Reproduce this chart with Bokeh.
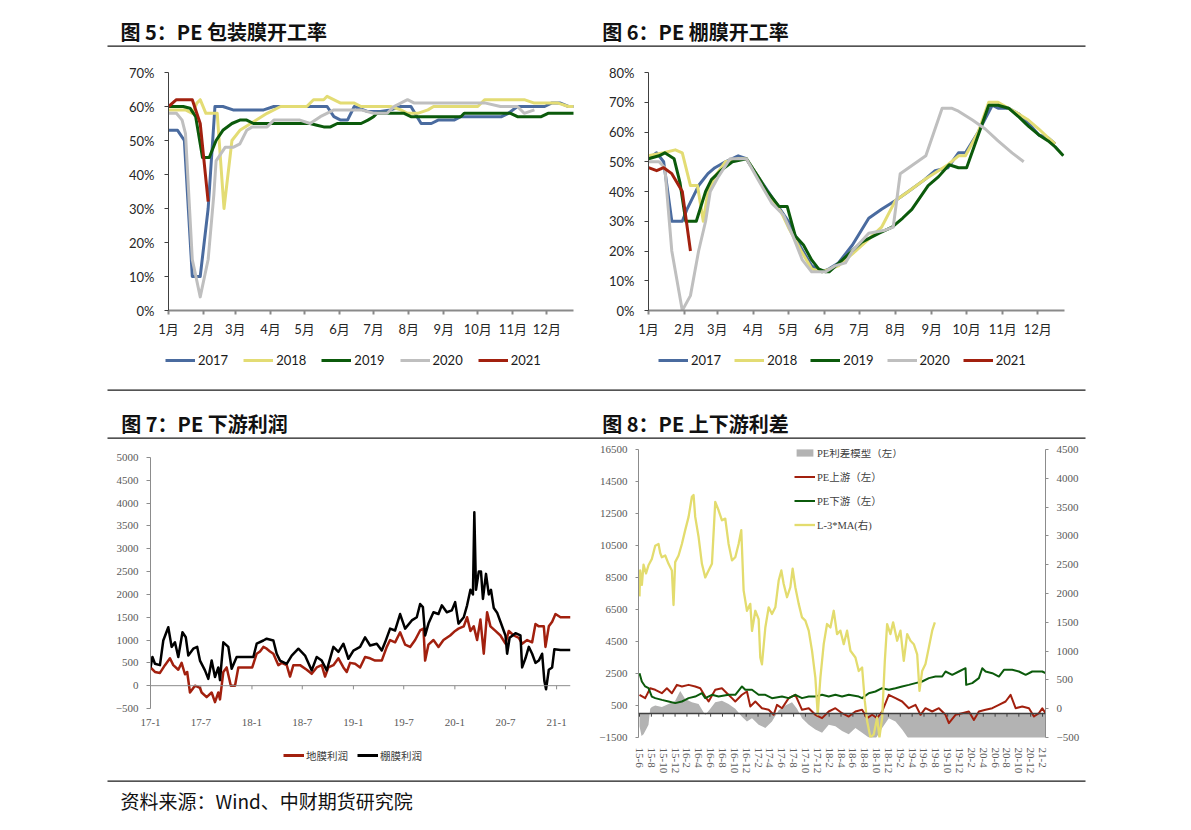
import math
from bokeh.plotting import figure
from bokeh.layouts import column, row
from bokeh.models import (Range1d, LinearAxis, FixedTicker, Legend, LegendItem,
                          Span, Label)
from bokeh.embed import file_html
from bokeh.resources import INLINE

CJK = "Noto Sans CJK SC"
SANS = "Lato"
SANS_CJK = "Lato, 'Noto Sans CJK SC'"
SERIF = "'Liberation Serif'"
SERIF_CJK = "'Liberation Serif', 'Noto Sans CJK SC'"

# ---------------- data ----------------
titles = ["图 5：PE 包装膜开工率", "图 6：PE 棚膜开工率", "图 7：PE 下游利润", "图 8：PE 上下游利差"]
source_text = "资料来源：Wind、中财期货研究院"

years = ["2017", "2018", "2019", "2020", "2021"]
year_colors = ["#4A6B9F", "#E3DC74", "#0B5A0B", "#BFBFBF", "#A2200E"]
month_ticks = [0, 31, 59, 90, 120, 151, 181, 212, 243, 273, 304, 334]
month_labels = ["1月", "2月", "3月", "4月", "5月", "6月", "7月", "8月", "9月", "10月", "11月", "12月"]

# Fig 5: packaging film operating rate (%), x = day of year
pk17_d = [0, 8, 14, 21, 28, 35, 41, 48, 57, 84, 93, 140, 146, 152, 158, 164, 176, 187, 196, 205, 214, 223, 232, 238, 252, 258, 294, 300, 308, 332, 338, 346, 353, 358]
pk17_v = [53, 53, 50, 10, 10, 30, 60, 60, 59, 59, 60, 60, 57, 56, 56, 60, 58.5, 58.5, 59, 60, 60, 55, 55, 56, 56, 57, 57, 58, 60, 60, 61, 61, 60, 60]
pk18_d = [0, 15, 21, 25, 28, 33, 43, 49, 56, 63, 87, 99, 122, 128, 137, 140, 152, 164, 170, 196, 205, 211, 220, 229, 234, 273, 279, 314, 323, 344, 353, 358]
pk18_v = [59, 59, 58, 61, 62, 58, 58, 30, 50, 53, 58, 60, 60, 62, 62, 63, 61, 61, 60, 60, 59, 58, 58, 59, 60, 60, 62, 62, 61, 61, 60, 60]
pk19_d = [0, 13, 19, 24, 30, 36, 42, 48, 56, 63, 69, 75, 125, 131, 137, 143, 149, 170, 176, 181, 184, 208, 214, 258, 261, 302, 308, 329, 335, 358]
pk19_v = [60, 60, 59.5, 57, 45, 45, 50, 53, 55, 56, 56, 55, 55, 54.5, 54, 54, 55, 55, 56, 57, 58, 58, 57, 57, 58, 58, 57, 57, 58, 58]
pk20_d = [0, 7, 12, 15, 21, 28, 35, 40, 42, 50, 57, 63, 69, 74, 87, 93, 116, 125, 134, 146, 170, 181, 193, 199, 211, 217, 280, 293, 308, 314, 323]
pk20_v = [58, 58, 56, 52, 15, 4, 15, 34, 44, 48, 48, 49, 53, 54, 54, 56, 56, 55, 57, 59, 59, 58, 58, 60, 62, 61, 61, 60, 60, 58, 59]
pk21_d = [0, 7, 14, 21, 28, 35]
pk21_v = [60, 62, 62, 62, 55, 32]

# Fig 6: greenhouse film operating rate (%)
gm17_d = [0, 7, 13, 20, 29, 33, 43, 51, 57, 66, 77, 84, 94, 106, 120, 131, 140, 149, 155, 163, 175, 189, 200, 212, 223, 237, 246, 257, 266, 272, 283, 295, 300, 309, 318, 326, 335, 343, 349]
gm17_v = [51, 53, 50, 30, 30, 34, 42, 46, 48, 50, 52, 51, 45, 38, 30, 21, 15, 13, 14, 16, 22, 31, 34, 37, 40, 44, 47, 48, 53, 53, 60, 69, 68, 68, 66, 63, 59, 58, 56]
gm18_d = [0, 13, 23, 29, 36, 42, 47, 51, 57, 66, 77, 84, 94, 106, 114, 120, 131, 140, 149, 163, 175, 189, 200, 212, 223, 237, 257, 266, 272, 283, 292, 300, 309, 318, 326, 335, 343, 349]
gm18_v = [52, 53, 54, 53, 42, 42, 30, 40, 45, 50, 51, 51, 45, 37, 33, 28, 20, 14, 13, 15, 19, 24, 28, 37, 40, 44, 49, 52, 52, 60, 70, 70, 68, 66, 64, 61, 58, 56]
gm19_d = [0, 9, 14, 22, 27, 32, 41, 49, 54, 62, 72, 84, 94, 102, 112, 119, 126, 133, 140, 146, 152, 155, 172, 183, 198, 209, 218, 226, 240, 249, 258, 266, 273, 283, 292, 300, 309, 318, 326, 335, 343, 349, 356]
gm19_v = [51, 52, 53, 51, 43, 30, 30, 40, 44, 47, 50, 51, 45, 40, 35, 35, 25, 22, 17, 14, 13, 13, 19, 23, 26, 28, 31, 34, 42, 45, 49, 48, 48, 59, 69, 69, 68, 65, 62, 59, 57, 55, 52]
gm20_d = [0, 9, 14, 20, 29, 36, 43, 49, 53, 60, 70, 84, 94, 106, 116, 124, 132, 140, 152, 160, 169, 175, 189, 203, 210, 216, 238, 252, 260, 266, 278, 289, 300, 312, 322]
gm20_v = [50, 50, 48, 20, 0, 5, 20, 30, 40, 45, 51, 51, 44, 36, 32, 25, 17, 13, 13, 15, 16, 20, 26, 27, 28, 46, 52, 68, 68, 67, 64, 61, 57, 53, 50]
gm21_d = [0, 7, 13, 20, 29, 36]
gm21_v = [48, 47, 48, 46, 40, 20]

# Fig 7: downstream profit, x = days since 2017-01-01
p7_ticks = [0, 181, 365, 546, 730, 911, 1095, 1277, 1461]
p7_labels = ["17-1", "17-7", "18-1", "18-7", "19-1", "19-7", "20-1", "20-7", "21-1"]
p7_names = ["地膜利润", "棚膜利润"]
p7_colors = ["#A2200E", "#000000"]
dm_d = [0, 16, 34, 52, 70, 82, 100, 112, 124, 132, 142, 160, 178, 184, 202, 220, 232, 244, 250, 262,
        274, 289, 304, 316, 366, 382, 394, 406, 418, 430, 442, 460, 472, 490, 502, 514, 538, 562, 580, 598,
        616, 628, 640, 658, 676, 694, 706, 718, 736, 754, 772, 790, 808, 832, 850, 862, 880, 898, 916, 934,
        952, 970, 982, 988, 1000, 1018, 1036, 1054, 1078, 1096, 1108, 1127, 1139, 1151, 1163, 1175, 1187, 1199, 1211, 1223,
        1241, 1259, 1277, 1289, 1307, 1325, 1337, 1355, 1373, 1385, 1397, 1415, 1421, 1433, 1445, 1457, 1475, 1511]
dm_v = [400, 300, 280, 450, 600, 450, 350, 500, 250, 300, -150, 0, -50, -150, -250, -150, -360, -150, -300, 300,
        400, 0, 0, 400, 400, 700, 750, 850, 810, 750, 700, 450, 500, 450, 200, 450, 450, 350, 260, 400,
        450, 200, 400, 450, 600, 400, 300, 500, 480, 400, 630, 600, 550, 550, 850, 1000, 950, 1170, 900, 850,
        1000, 1210, 1250, 550, 900, 1000, 850, 1000, 1100, 1200, 1250, 1300, 1500, 1200, 1300, 1000, 1450, 700, 1610, 1300,
        1200, 1100, 920, 1200, 1100, 1050, 920, 1000, 950, 1350, 1300, 1300, 850, 1300, 1400, 1570, 1500, 1500]
pm_d = [0, 7, 16, 34, 46, 64, 76, 88, 100, 115, 127, 136, 154, 168, 178, 196, 208, 220, 232, 244,
        250, 262, 280, 292, 310, 346, 370, 382, 406, 418, 442, 454, 466, 490, 508, 532, 556, 580, 598, 616,
        634, 658, 676, 694, 712, 730, 754, 772, 790, 814, 832, 844, 862, 880, 898, 916, 940, 958, 970, 980,
        988, 1000, 1018, 1036, 1048, 1066, 1084, 1096, 1108, 1127, 1139, 1151, 1160, 1165, 1171, 1181, 1189, 1196, 1207, 1217,
        1225, 1235, 1247, 1259, 1277, 1283, 1292, 1313, 1331, 1337, 1349, 1361, 1373, 1385, 1397, 1409, 1417, 1423, 1433, 1445,
        1453, 1475, 1511]
pm_v = [400, 630, 480, 450, 990, 1280, 850, 950, 630, 1170, 1060, 660, 810, 850, 550, 335, 150, 550, 190, 400,
        120, 950, 850, 370, 630, 630, 630, 920, 990, 1030, 990, 700, 550, 480, 660, 810, 660, 335, 630, 550,
        335, 850, 740, 920, 590, 770, 850, 1060, 880, 920, 770, 950, 1250, 1210, 1570, 1250, 1430, 1500, 1790, 1720,
        1100, 1360, 1610, 1570, 1760, 1610, 1650, 1830, 1360, 1500, 1760, 2100, 2000, 3800, 2100, 2500, 2500, 1900, 2450, 2000,
        2100, 1700, 1600, 1400, 1100, 700, 1050, 1150, 1100, 400, 600, 850, 700, 500, 550, 700, 100, -80, 350, 400,
        800, 780, 780]

# Fig 8: upstream / downstream spread, x = months since 2015-06
p8_labels = ["15-6", "15-8", "15-10", "15-12", "16-2", "16-4", "16-6", "16-8", "16-10", "16-12",
             "17-2", "17-4", "17-6", "17-8", "17-10", "17-12", "18-2", "18-4", "18-6", "18-8",
             "18-10", "18-12", "19-2", "19-4", "19-6", "19-8", "19-10", "19-12", "20-2", "20-4",
             "20-6", "20-8", "20-10", "20-12", "21-2"]
p8_ticks = [2 * i for i in range(len(p8_labels))]
p8_names = ["PE利差模型（左）", "PE上游（左）", "PE下游（左）", "L-3*MA(右)"]
ar_m = [0, 0.34, 0.68, 1.24, 1.52, 1.8, 2.08, 2.65, 3.77, 4.9, 6.02, 6.87, 7.71, 8.84, 9.97, 11.09, 11.94, 12.78, 13.91, 15.03,
        16.16, 17.29, 18.13, 18.98, 20.1, 21.23, 22.35, 23.48, 24.61, 25.73, 26.58, 27.42, 28.55, 29.67, 30.8, 31.93, 33.05, 34.18, 35.3, 36.43,
        37.56, 38.68, 39.81, 40.94, 42.06, 43.19, 44.31, 45.44, 46.57, 68.5]
ar_v = [-800, -1400, -1300, -900, -700, 300, 400, 500, 400, 600, 800, 1400, 900, 700, 600, -100, 300, 700, 800, 600,
        300, -200, -500, -300, -700, -900, -500, 200, 500, 700, 300, -300, -700, -1000, -1200, -700, -800, -1100, -1300, -900,
        -1200, -1500, -1600, -900, -300, -500, -1000, -1600, -1800, -1800]
rd_m = [0, 0.96, 1.8, 2.65, 3.77, 4.62, 5.46, 6.31, 7.15, 8.28, 9.4, 10.25, 11.09, 11.66, 12.78, 13.91, 14.75, 15.6, 16.16, 17.29,
        18.13, 18.69, 19.54, 20.66, 21.79, 22.64, 23.2, 24.04, 25.17, 26.29, 27.42, 28.55, 29.67, 30.8, 31.93, 33.05, 34.18, 35.3, 36.43, 37.56,
        38.4, 39.25, 40.09, 40.94, 42.06, 43.19, 44.31, 45.44, 46.57, 47.41, 48.25, 49.38, 50.51, 51.63, 52.2, 53.32, 54.45, 55.57, 56.42, 57.26,
        58.39, 59.52, 60.64, 61.77, 62.61, 63.46, 64.58, 65.71, 66.55, 67.4, 67.96, 68.5]
rd_v = [1170, 960, 1580, 1480, 1270, 1580, 1270, 1790, 1690, 1790, 1690, 1580, 1060, 750, 1480, 1580, 1270, 960, 750, 1170,
        1375, 440, 750, 330, 230, -80, 540, 330, 960, 1170, 230, 330, -80, -290, 125, 330, 20, -190, 125, 230,
        -290, -80, -290, 125, 1170, 960, 750, 330, 540, -80, 330, 125, 330, -80, -600, -80, 20, 125, -400, 125,
        230, 330, 540, 750, 1170, 330, 440, 330, -190, 20, 330, 20]
gr_m = [0, 0.39, 0.96, 1.52, 2.08, 2.65, 3.77, 4.9, 6.02, 7.15, 7.71, 8.28, 9.4, 10.53, 11.09, 12.22, 13.34, 15.03, 16.16, 17.29,
        17.85, 18.98, 20.1, 21.23, 22.35, 24.04, 25.17, 26.29, 27.42, 28.55, 29.67, 30.8, 31.93, 33.05, 34.18, 35.3, 36.99, 37.56, 38.68, 39.81,
        40.94, 42.06, 43.19, 44.31, 45.44, 46.57, 47.69, 48.82, 49.94, 51.07, 51.63, 52.76, 53.89, 55.01, 55.12, 56.14, 57.26, 57.83, 58.39, 59.52,
        60.64, 61.49, 62.89, 64.02, 65.15, 66.27, 67.96, 68.5]
gr_v = [2520, 2000, 1690, 1580, 1060, 960, 850, 750, 650, 750, 850, 960, 1060, 1270, 960, 1170, 1060, 1170, 1170, 1690,
        1480, 1480, 1170, 1170, 960, 1060, 960, 1170, 960, 1060, 1060, 1170, 1060, 1170, 1060, 1170, 1060, 960, 1270, 1375,
        1580, 1480, 1580, 1690, 1790, 1900, 2000, 2210, 2310, 2310, 2625, 2420, 2625, 2830, 1790, 1900, 2210, 2830, 2625, 2520,
        2310, 2730, 2730, 2625, 2420, 2625, 2625, 2520]
yl_m = [0.0, 0.11, 0.4, 0.68, 1.1, 1.52, 2.08, 2.65, 3.21, 3.5, 3.77, 4.34, 4.9, 5.46, 5.74, 6.02, 6.59, 7.15, 7.71, 8.28,
        8.84, 9.12, 9.4, 9.97, 10.53, 11.09, 11.66, 12.22, 12.78, 13.34, 13.91, 14.47, 15.03, 15.6, 16.16, 16.72, 17.17, 17.57, 18.13, 18.69,
        18.98, 19.54, 20.1, 20.38, 20.66, 21.23, 21.79, 22.35, 22.92, 23.48, 23.93, 24.32, 24.89, 25.45, 25.84, 26.29, 26.86, 27.42, 27.98, 28.55,
        29.11, 29.67, 30.07, 30.52, 31.08, 31.64, 32.21, 32.77, 33.33, 33.9, 34.46, 35.02, 35.59, 36.43, 36.99, 37.56, 38.01, 38.4, 38.96, 39.53,
        40.09, 40.48, 40.94, 41.39, 41.78, 42.34, 42.79, 43.47, 44.03, 44.59, 45.16, 45.72, 46.28, 46.85, 47.24, 47.69, 48.25, 48.82, 49.38, 49.83]
yl_v = [1950, 2400, 2150, 2500, 2350, 2490, 2600, 2830, 2860, 2700, 2630, 2660, 2515, 2400, 1800, 2545, 2660, 2860, 3100, 3330,
        3680, 3710, 3330, 2980, 2515, 2280, 2400, 2515, 3590, 3445, 3270, 3300, 2860, 2575, 2630, 2860, 3100, 2050, 1700, 1820,
        1350, 1700, 1555, 890, 770, 1410, 1760, 1645, 1760, 2225, 2400, 2170, 1935, 2110, 2430, 2110, 1820, 1585, 1530, 1355,
        1005, 540, -100, 540, 1120, 1470, 1410, 1700, 1295, 1355, 1120, 1355, 1005, 890, 655, 715, 135, -215, -500, -445,
        -155, -500, -155, 830, 1470, 1295, 1500, 1180, 1355, 830, 1295, 1180, 1120, 945, 310, 655, 775, 1065, 1355, 1500]


# ---------------- helpers ----------------
PAGE_W = 1183


def band(top, h, w=PAGE_W):
    p = figure(width=w, height=h, x_range=Range1d(0, w), y_range=Range1d(top + h, top),
               x_axis_type=None, y_axis_type=None, output_backend="svg",
               toolbar_location=None, min_border=0)
    p.grid.visible = False
    p.outline_line_color = None
    return p


def rule(p, y):
    p.segment(x0=[107], y0=[y], x1=[1085], y1=[y], line_color="#1a1a1a", line_width=1.3)


def title(p, x, y, text):
    p.add_layout(Label(x=x, y=y, text=text, text_font=CJK, text_font_size="20px",
                       text_font_style="bold", text_baseline="middle", text_color="#111111"))


def key_legend(p, names, colors, widths, loc, glyph_w, spacing, font, size, color, standoff):
    # legend keys for a chart whose legend sits below its frame; the key
    # renderers hold a single off-screen point, so they draw no mark themselves
    items = []
    for n, c, lw in zip(names, colors, widths):
        r = p.line(x=[-1e6], y=[-1e6], line_color=c, line_width=lw)
        items.append(LegendItem(label=n, renderers=[r]))
    leg = Legend(items=items, orientation="horizontal", location=loc, glyph_width=glyph_w,
                 glyph_height=16, label_height=16, label_standoff=standoff, spacing=spacing,
                 padding=0, margin=0, border_line_color=None, background_fill_alpha=0,
                 label_text_font=font, label_text_font_size=size, label_text_color=color)
    p.add_layout(leg)


def chart(w, h, xr, yr, bl, br, bt, bb):
    p = figure(width=w, height=h, x_range=xr, y_range=yr, output_backend="svg",
               toolbar_location=None, min_border_left=bl, min_border_right=br,
               min_border_top=bt, min_border_bottom=bb)
    p.grid.visible = False
    p.outline_line_color = None
    return p


def rate_chart(w, bl, br, bt, bb, xend, ymax, series):
    p = chart(w, 300, Range1d(0, xend), Range1d(0, ymax), bl, br, bt, bb)
    yt = list(range(0, ymax + 1, 10))
    p.yaxis.ticker = FixedTicker(ticks=yt)
    p.yaxis.major_label_overrides = {t: f"{t}%" for t in yt}
    p.xaxis.ticker = FixedTicker(ticks=month_ticks)
    p.xaxis.major_label_overrides = dict(zip(month_ticks, month_labels))
    for ax in (p.xaxis, p.yaxis):
        ax.minor_tick_line_color = None
        ax.major_tick_in = 0
        ax.major_tick_out = 4
        ax.major_label_text_font_size = "13px"
        ax.major_label_text_color = "#262626"
    p.yaxis.axis_line_color = "#404040"
    p.yaxis.major_tick_line_color = "#404040"
    p.yaxis.major_label_standoff = 10
    p.yaxis.major_label_text_font = SANS
    p.xaxis.axis_line_color = "#8a8a8a"
    p.xaxis.axis_line_width = 2
    p.xaxis.major_tick_line_color = "#8a8a8a"
    p.xaxis.major_tick_line_width = 2
    p.xaxis.major_label_standoff = 6
    p.xaxis.major_label_text_font = SANS_CJK
    for (d, v), col in zip(series, year_colors):
        p.line(d, v, line_color=col, line_width=3, line_join="round")
    return p


# ---------------- header band ----------------
h1 = band(0, 48)
title(h1, 120, 30.5, titles[0])
title(h1, 601.7, 30.5, titles[1])
rule(h1, 45.7)

# ---------------- figs 5 & 6 ----------------
p5 = rate_chart(596, 168, 23, 23, 37, 357.5, 70,
                [(pk17_d, pk17_v), (pk18_d, pk18_v), (pk19_d, pk19_v), (pk20_d, pk20_v), (pk21_d, pk21_v)])
p6 = rate_chart(587, 52, 119, 24, 38, 357.0, 80,
                [(gm17_d, gm17_v), (gm18_d, gm18_v), (gm19_d, gm19_v), (gm20_d, gm20_v), (gm21_d, gm21_v)])

leg1 = band(348, 32)
key_legend(leg1, years, year_colors, [3] * 5, (165, 12), 30, 15, SANS, "13px", "#1a1a1a", 3)
key_legend(leg1, years, year_colors, [3] * 5, (658, 12), 30, 13, SANS, "13px", "#1a1a1a", 3)

# ---------------- middle band ----------------
h2 = band(380, 60)
rule(h2, 389.7)
title(h2, 120.7, 423, titles[2])
title(h2, 601.7, 423, titles[3])
rule(h2, 437.7)

# ---------------- fig 7 ----------------
p7 = chart(596, 300, Range1d(0, 1511), Range1d(-500, 5000), 150, 26, 17, 32)
y7 = list(range(-500, 5001, 500))
p7.yaxis.ticker = FixedTicker(ticks=y7)
p7.xaxis.ticker = FixedTicker(ticks=p7_ticks)
p7.xaxis.major_label_overrides = dict(zip(p7_ticks, p7_labels))
for ax in (p7.xaxis, p7.yaxis):
    ax.minor_tick_line_color = None
    ax.major_label_text_font = SERIF
    ax.major_label_text_font_size = "11px"
    ax.major_label_text_color = "#595959"
p7.yaxis.axis_line_color = "#8c8c8c"
p7.yaxis.major_tick_line_color = "#8c8c8c"
p7.yaxis.major_tick_in = 0
p7.yaxis.major_tick_out = 4
p7.yaxis.major_label_standoff = 8
p7.xaxis.axis_line_color = None
p7.xaxis.major_tick_line_color = None
p7.xaxis.major_tick_out = 0
p7.xaxis.major_tick_in = 0
p7.xaxis.major_label_standoff = 10
p7.add_layout(Span(location=0, dimension="width", line_color="#8c8c8c", line_width=1))
p7.segment(x0=p7_ticks, y0=[0] * len(p7_ticks), x1=p7_ticks, y1=[-80] * len(p7_ticks),
           line_color="#8c8c8c", line_width=1)
p7.line(dm_d, dm_v, line_color=p7_colors[0], line_width=2.5, line_join="round")
p7.line(pm_d, pm_v, line_color=p7_colors[1], line_width=2.5, line_join="round")

# legend strip under fig 7 (its frame is aligned with fig 7's frame, which starts 150px in)
leg7 = band(740, 39, 596)
key_legend(leg7, p7_names, p7_colors, [3, 3], (133, 16), 21, 9, SERIF_CJK, "10.5px", "#404040", 2)

# ---------------- fig 8 ----------------
p8 = chart(587, 339, Range1d(-0.17, 68.5), Range1d(-1500, 16500), 42, 138, 9, 42)
p8.extra_y_ranges = {"right": Range1d(-500, 4500)}
p8.add_layout(LinearAxis(y_range_name="right"), "right")
y8l = list(range(-1500, 16501, 2000))
y8r = list(range(-500, 4501, 500))
p8.yaxis[0].ticker = FixedTicker(ticks=y8l)
p8.yaxis[1].ticker = FixedTicker(ticks=y8r)
p8.xaxis.ticker = FixedTicker(ticks=p8_ticks)
p8.xaxis.major_label_overrides = dict(zip(p8_ticks, p8_labels))
p8.xaxis.major_label_orientation = "vertical"
for ax in list(p8.yaxis) + [p8.xaxis[0]]:
    ax.minor_tick_line_color = None
    ax.major_label_text_font = SERIF
    ax.major_label_text_font_size = "11px"
    ax.major_label_text_color = "#595959"
for ax in p8.yaxis:
    ax.axis_line_color = "#8c8c8c"
    ax.major_tick_line_color = "#8c8c8c"
    ax.major_tick_in = 0
    ax.major_tick_out = 3
    ax.major_label_standoff = 8
p8.xaxis.axis_line_color = None
p8.xaxis.major_tick_line_color = None
p8.xaxis.major_tick_out = 0
p8.xaxis.major_tick_in = 0
p8.xaxis.major_label_standoff = 10
r8a = p8.varea(x=ar_m, y1=[0] * len(ar_m), y2=ar_v, fill_color="#B3B3B3")
p8.add_layout(Span(location=0, dimension="width", line_color="#404040", line_width=1.3))
p8.segment(x0=p8_ticks, y0=[0] * len(p8_ticks), x1=p8_ticks, y1=[-200] * len(p8_ticks),
           line_color="#404040", line_width=1)
r8b = p8.line(rd_m, rd_v, line_color="#A2200E", line_width=2, line_join="round")
r8c = p8.line(gr_m, gr_v, line_color="#0B5A0B", line_width=2, line_join="round")
r8d = p8.line(yl_m, yl_v, line_color="#E3DC6E", line_width=2.3, line_join="round", y_range_name="right")
leg8 = Legend(items=[LegendItem(label=n, renderers=[r]) for n, r in zip(p8_names, [r8a, r8b, r8c, r8d])],
              orientation="vertical", location=(156, 205), glyph_width=21, glyph_height=9,
              label_height=9, label_standoff=2, spacing=9, padding=0, margin=0,
              border_line_color=None, background_fill_alpha=0, label_text_font=SERIF_CJK,
              label_text_font_size="10.5px", label_text_color="#404040")
p8.add_layout(leg8)

# ---------------- footer ----------------
foot = band(779, 43)
rule(foot, 780.7)
foot.add_layout(Label(x=120, y=800, text=source_text, text_font=CJK, text_font_size="19px",
                      text_baseline="middle", text_color="#111111"))

layout = column(h1, row(p5, p6), leg1, h2, row(column(p7, leg7), p8), foot)
open("out.html", "w").write(file_html(layout, INLINE, "PE"))
